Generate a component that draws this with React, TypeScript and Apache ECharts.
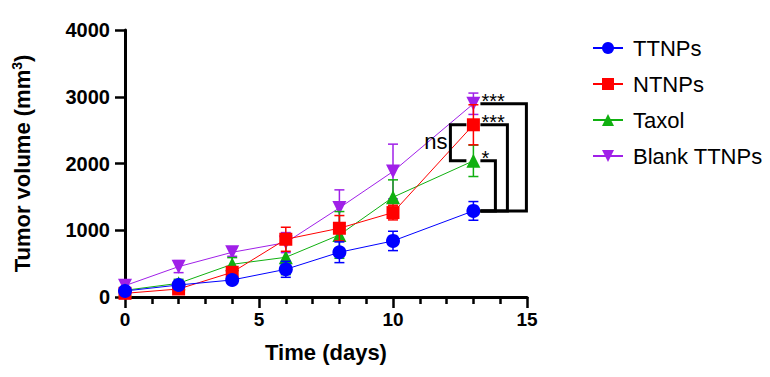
import React, { useEffect, useRef } from "react";
import * as echarts from "echarts";

const days = [0, 2, 4, 6, 8, 10, 13];
const seriesNames = ["TTNPs", "NTNPs", "Taxol", "Blank TTNPs"];
const ttnps = [90, 180, 255, 415, 670, 840, 1290];
const ttnpsErr = [40, 50, 40, 120, 155, 145, 140];
const ntnps = [55, 120, 370, 865, 1030, 1265, 2580];
const ntnpsErr = [40, 50, 80, 180, 190, 110, 300];
const taxol = [100, 205, 490, 595, 930, 1495, 2040];
const taxolErr = [40, 60, 100, 260, 350, 260, 235];
const blank = [170, 455, 670, 815, 1335, 1880, 2895];
const blankErr = [60, 90, 60, 150, 270, 410, 160];
const yTicks = [0, 1000, 2000, 3000, 4000];
const xTicks = [0, 5, 10, 15];

// comparisons vs TTNPs at the last day, plus NTNPs vs Taxol
const comparisons = [
  { a: "Blank TTNPs", b: "TTNPs", label: "***" },
  { a: "NTNPs", b: "TTNPs", label: "***" },
  { a: "Taxol", b: "TTNPs", label: "*" },
];
const nsComparison = { a: "NTNPs", b: "Taxol", label: "ns" };

const FONT = "Arial, 'Liberation Sans', sans-serif";

export default function App() {
  const ref = useRef<HTMLDivElement>(null);
  useEffect(() => {
    document.body.style.margin = "0";
    if (!ref.current) return;
    const chart = echarts.init(ref.current, undefined, { renderer: "svg" });

    const values: Record<string, number[]> = {
      TTNPs: ttnps,
      NTNPs: ntnps,
      Taxol: taxol,
      "Blank TTNPs": blank,
    };
    const errs: Record<string, number[]> = {
      TTNPs: ttnpsErr,
      NTNPs: ntnpsErr,
      Taxol: taxolErr,
      "Blank TTNPs": blankErr,
    };
    const colors: Record<string, string> = {
      TTNPs: "#0000FF",
      NTNPs: "#FF0000",
      Taxol: "#10B010",
      "Blank TTNPs": "#A020E8",
    };
    const symbols: Record<string, string> = {
      TTNPs: "circle",
      NTNPs: "rect",
      Taxol: "triangle",
      "Blank TTNPs": "triangle",
    };
    const zOrder: Record<string, number> = {
      "Blank TTNPs": 3,
      Taxol: 4,
      NTNPs: 5,
      TTNPs: 6,
    };

    const drawOrder = ["Blank TTNPs", "Taxol", "NTNPs", "TTNPs"];
    const series: any[] = [];
    drawOrder.forEach((name) => {
      const col = colors[name];
      series.push({
        type: "custom",
        name: name + " err",
        z: zOrder[name] - 0.5,
        data: days.map((d, i) => [d, values[name][i], errs[name][i]]),
        renderItem: (params: any, api: any) => {
          const x = api.value(0);
          const y = api.value(1);
          const e = api.value(2);
          const top = api.coord([x, y + e]);
          const bot = api.coord([x, y - e]);
          const hw = 5;
          const st = { stroke: col, lineWidth: 1.5 };
          return {
            type: "group",
            children: [
              { type: "line", shape: { x1: top[0], y1: top[1], x2: bot[0], y2: bot[1] }, style: st },
              { type: "line", shape: { x1: top[0] - hw, y1: top[1], x2: top[0] + hw, y2: top[1] }, style: st },
              { type: "line", shape: { x1: bot[0] - hw, y1: bot[1], x2: bot[0] + hw, y2: bot[1] }, style: st },
            ],
          };
        },
        silent: true,
      });
      series.push({
        type: "line",
        name,
        z: zOrder[name],
        data: days.map((d, i) => [d, values[name][i]]),
        symbol: symbols[name],
        symbolSize: name === "TTNPs" ? 14 : name === "NTNPs" ? 13 : 14,
        symbolRotate: name === "Blank TTNPs" ? 180 : 0,
        showSymbol: true,
        lineStyle: { color: col, width: 1 },
        itemStyle: { color: col, opacity: 1 },
        silent: true,
      });
    });

    const lastIdx = days.length - 1;
    const lastDay = days[lastIdx];
    const rightOffsets = [53, 34, 22];

    series.push({
      type: "custom",
      name: "brackets",
      z: 10,
      clip: false,
      silent: true,
      data: comparisons.map((c, i) => [lastDay, values[c.a][lastIdx], values[c.b][lastIdx], i]),
      renderItem: (params: any, api: any) => {
        const idx = api.value(3);
        const pTop = api.coord([api.value(0), api.value(1)]);
        const pBot = api.coord([api.value(0), api.value(2)]);
        const x0 = pTop[0] + 7;
        const xr = pTop[0] + rightOffsets[idx];
        return {
          type: "group",
          children: [
            {
              type: "polyline",
              shape: { points: [[x0, pTop[1]], [xr, pTop[1]], [xr, pBot[1]], [x0, pBot[1]]] },
              style: { stroke: "#000", lineWidth: 3, fill: null },
            },
            {
              type: "text",
              x: x0 + 1,
              y: pTop[1] + 7,
              style: {
                text: comparisons[idx].label,
                fill: "#000",
                font: `20px ${FONT}`,
                align: "left",
                verticalAlign: "bottom",
              },
            },
          ],
        };
      },
    });

    series.push({
      type: "custom",
      name: "nsBracket",
      z: 10,
      clip: false,
      silent: true,
      data: [[lastDay, values[nsComparison.a][lastIdx], values[nsComparison.b][lastIdx]]],
      renderItem: (params: any, api: any) => {
        const pA = api.coord([api.value(0), api.value(1)]);
        const pB = api.coord([api.value(0), api.value(2)]);
        const xIn = pA[0] - 7;
        const xOut = pA[0] - 23;
        return {
          type: "group",
          children: [
            {
              type: "polyline",
              shape: { points: [[xIn, pA[1]], [xOut, pA[1]], [xOut, pB[1]], [xIn, pB[1]]] },
              style: { stroke: "#000", lineWidth: 3, fill: null },
            },
            {
              type: "text",
              x: xOut - 3,
              y: (pA[1] + pB[1]) / 2 - 1,
              style: {
                text: nsComparison.label,
                fill: "#000",
                font: `22px ${FONT}`,
                align: "right",
                verticalAlign: "middle",
              },
            },
          ],
        };
      },
    });

    const nameStyle = { fontSize: 22, fontWeight: "bold", fontFamily: FONT, color: "#000" };

    chart.setOption({
      animation: false,
      grid: { left: 125, top: 30, width: 402, height: 267, containLabel: false },
      legend: {
        data: seriesNames,
        orient: "vertical",
        left: 587,
        top: 32,
        itemWidth: 30,
        itemHeight: 15,
        itemGap: 14,
        textStyle: { fontSize: 22, fontFamily: FONT, color: "#000", padding: [0, 0, 0, 5] },
        selectedMode: false,
      },
      xAxis: {
        type: "value",
        min: xTicks[0],
        max: xTicks[xTicks.length - 1],
        interval: 5,
        name: "Time (days)",
        nameLocation: "middle",
        nameGap: 44,
        nameTextStyle: nameStyle,
        axisLine: { show: true, onZero: false, lineStyle: { color: "#000", width: 3 } },
        axisTick: { show: true, length: 11, lineStyle: { color: "#000", width: 2.5 } },
        minorTick: { show: true, splitNumber: 5, length: 7, lineStyle: { color: "#000", width: 2.5 } },
        axisLabel: { fontSize: 19, fontWeight: "bold", fontFamily: FONT, color: "#000", margin: 13 },
        splitLine: { show: false },
      },
      yAxis: {
        type: "value",
        min: yTicks[0],
        max: yTicks[yTicks.length - 1],
        interval: 1000,
        name: "{n|Tumor volume (mm}{s|3}{n|)}",
        nameLocation: "middle",
        nameGap: 91,
        nameTextStyle: {
          ...nameStyle,
          rich: {
            n: { fontSize: 22, fontWeight: "bold", fontFamily: FONT, color: "#000" },
            s: { fontSize: 14, fontWeight: "bold", fontFamily: FONT, color: "#000", padding: [0, 0, 10, 0] },
          },
        },
        axisLine: { show: true, onZero: false, lineStyle: { color: "#000", width: 3 } },
        axisTick: { show: true, length: 10, lineStyle: { color: "#000", width: 2.5 } },
        axisLabel: {
          fontSize: 20,
          fontWeight: "bold",
          fontFamily: FONT,
          color: "#000",
          margin: 15,
          formatter: (v: number) => String(v),
        },
        splitLine: { show: false },
      },
      series,
    });

    return () => chart.dispose();
  }, []);
  return <div ref={ref} style={{ width: 770, height: 377 }} />;
}
